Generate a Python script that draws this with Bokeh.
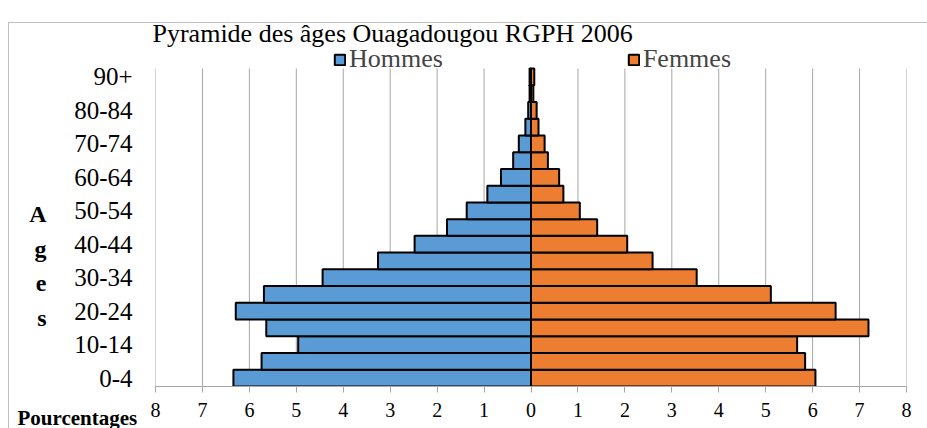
from bokeh.plotting import figure
from bokeh.models import (FixedTicker, Legend, LegendItem, ColumnDataSource, LinearAxis, Title)
from bokeh.embed import file_html
from bokeh.resources import INLINE

ages = ["0-4", "5-9", "10-14", "15-19", "20-24", "25-29", "30-34", "35-39", "40-44",
        "45-49", "50-54", "55-59", "60-64", "65-69", "70-74", "75-79", "80-84", "85-89", "90+"]
hommes = [6.34, 5.74, 4.96, 5.64, 6.29, 5.69, 4.44, 3.26, 2.48, 1.79, 1.37, 0.93,
          0.64, 0.38, 0.26, 0.12, 0.06, 0.03, 0.03]
femmes = [6.06, 5.84, 5.67, 7.19, 6.49, 5.11, 3.53, 2.59, 2.05, 1.41, 1.04, 0.69,
          0.60, 0.36, 0.29, 0.16, 0.12, 0.05, 0.07]
x_ticks = list(range(-8, 9))
title_text = "Pyramide des âges Ouagadougou RGPH 2006"
y_title = ["A", "g", "e", "s"]
y_title_pos = [9.83, 7.74, 5.71, 3.62]
x_title = "Pourcentages"

FONT = "Liberation Serif"
GRID = "#a6a6a6"
n = len(ages)
y_lo, y_hi = -0.5, n - 0.5
legend_room = 1.673  # extra rows of space above the bars for the legend

src = ColumnDataSource(dict(
    y=list(range(n)),
    h_left=[-v for v in hommes],
    zero=[0] * n,
    f_right=femmes,
))
grid_src = ColumnDataSource(dict(x=x_ticks, y0=[y_lo] * len(x_ticks), y1=[y_hi] * len(x_ticks)))

p = figure(width=927, height=428,
           x_range=(-8, 8), y_range=(y_lo, y_hi + legend_room),
           output_backend="svg", toolbar_location=None,
           min_border_left=155, min_border_right=21, min_border_top=40, min_border_bottom=42)
p.outline_line_color = None
p.background_fill_color = "white"
p.border_fill_alpha = 0
p.styles = {
    "background-color": "white",
    "background-image": "linear-gradient(#bfbfbf, #bfbfbf), linear-gradient(#bfbfbf, #bfbfbf)",
    "background-size": "100% 1px, 1px 100%",
    "background-position": "8px 22px, 8px 22px",
    "background-repeat": "no-repeat",
}

# vertical gridlines limited to the bar area
p.segment(x0="x", y0="y0", x1="x", y1="y1", source=grid_src, line_color=GRID, line_width=1)
p.xgrid.grid_line_color = None
p.ygrid.grid_line_color = None

rh = p.hbar(y="y", left="h_left", right="zero", height=1, source=src,
            fill_color="#5B9BD5", line_color="black", line_width=2)
rf = p.hbar(y="y", left="zero", right="f_right", height=1, source=src,
            fill_color="#ED7D31", line_color="black", line_width=2)

# x axis
p.xaxis.ticker = FixedTicker(ticks=x_ticks)
p.xaxis.major_label_overrides = {t: str(abs(t)) for t in x_ticks}
p.xaxis.axis_line_color = GRID
p.xaxis.major_tick_line_color = GRID
p.xaxis.major_tick_out = 6
p.xaxis.major_tick_in = 0
p.xaxis.minor_tick_line_color = None
p.xaxis.major_label_text_font = FONT
p.xaxis.major_label_text_font_size = "20px"
p.xaxis.major_label_text_color = "black"
p.xaxis.major_label_standoff = 10

# y axis (age groups)
p.yaxis.ticker = FixedTicker(ticks=list(range(0, n, 2)))
p.yaxis.major_label_overrides = {i: ages[i] for i in range(0, n, 2)}
p.yaxis.axis_line_color = None
p.yaxis.major_tick_line_color = None
p.yaxis.major_tick_out = 0
p.yaxis.major_tick_in = 0
p.yaxis.minor_tick_line_color = None
p.yaxis.major_label_text_font = FONT
p.yaxis.major_label_text_font_size = "25px"
p.yaxis.major_label_text_color = "black"
p.yaxis.major_label_standoff = 23

# outer left axis carrying the vertical "A g e s" title
ages_axis = LinearAxis(ticker=FixedTicker(ticks=y_title_pos),
                       major_label_overrides={pos: ch for pos, ch in zip(y_title_pos, y_title)},
                       axis_line_color=None, major_tick_line_color=None, minor_tick_line_color=None,
                       major_tick_out=0, major_tick_in=0, minor_tick_out=0,
                       major_label_standoff=25, major_label_text_font=FONT,
                       major_label_text_font_size="24px", major_label_text_font_style="bold",
                       major_label_text_color="black")
p.add_layout(ages_axis, "left")

# legend inside the frame, above the bars
legend = Legend(items=[LegendItem(label="Hommes", renderers=[rh]),
                       LegendItem(label="Femmes", renderers=[rf])],
                location=(178, 312), orientation="horizontal", padding=0, margin=0, spacing=184,
                glyph_width=13, glyph_height=13, label_standoff=3,
                label_text_font=FONT, label_text_font_size="26px",
                background_fill_alpha=0, border_line_alpha=0)
p.add_layout(legend, "center")

# chart title
p.add_layout(Title(text=title_text, align="left", offset=-3, standoff=-15,
                   text_font=FONT, text_font_size="26px", text_font_style="normal",
                   text_color="black"), "above")

# x title
p.add_layout(Title(text=x_title, align="left", vertical_align="top", offset=-138, standoff=-28,
                   text_font=FONT, text_font_size="21px", text_font_style="bold",
                   text_color="black"), "below")

open("out.html", "w").write(file_html(p, INLINE))
